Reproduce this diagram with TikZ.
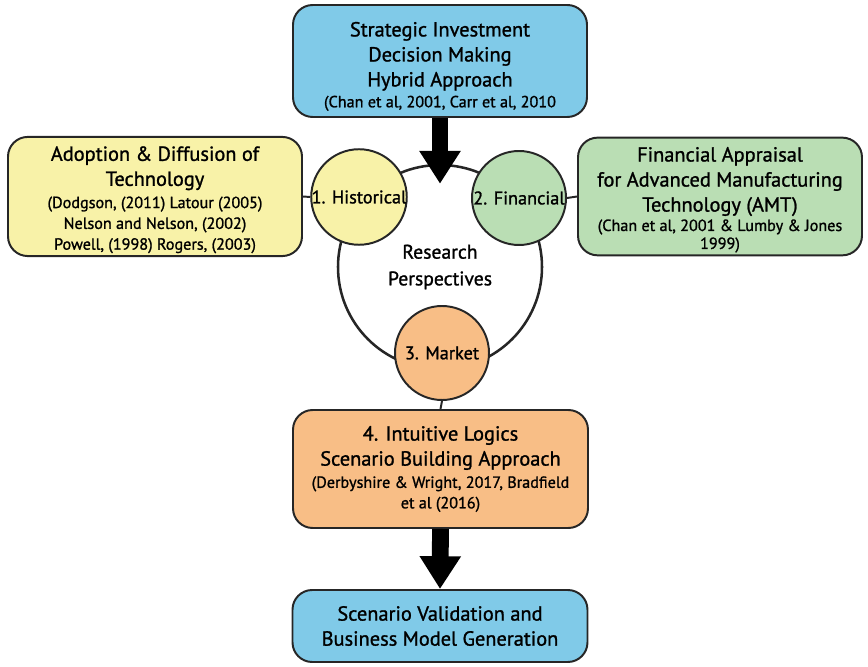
\documentclass[tikz,border=0pt]{standalone}
\usepackage{fontspec}
\setmainfont{PT Sans}[FakeBold=1.2]
\usetikzlibrary{arrows.meta}

\definecolor{boxblue}{RGB}{128,202,232}
\definecolor{boxyellow}{RGB}{248,242,168}
\definecolor{boxgreen}{RGB}{186,222,180}
\definecolor{boxorange}{RGB}{248,190,134}

% smaller type for the reference lines
\newcommand{\citeline}[1]{{\fontsize{11.5}{14}\selectfont #1}}
% pushes a text block a little lower in its box
\newcommand{\toppad}{\rule{0pt}{18pt}}

\begin{document}
\begin{tikzpicture}[
    box/.style={draw=black!85, line width=1.4pt, rounded corners=14pt, align=center, inner sep=2pt,
                font=\fontsize{14.5}{17.8}\selectfont},
    bluebox/.style={box, fill=boxblue},
    yellowbox/.style={box, fill=boxyellow},
    greenbox/.style={box, fill=boxgreen},
    orangebox/.style={box, fill=boxorange},
    persp/.style={circle, draw=black!85, line width=1.4pt, inner sep=0pt, minimum size=2.35cm, align=center,
                  font=\fontsize{13}{16}\selectfont},
    link/.style={draw=black!85, line width=1.4pt},
    bigarrow/.style={line width=0.42cm, black, -{Triangle[width=0.98cm, length=0.82cm]}},
]
\useasboundingbox (0,0) rectangle (21.7,16.65);

% Research perspectives ring
\node[circle, draw=black!85, line width=1.8pt, minimum size=5.1cm, align=center,
      font=\fontsize{14}{19}\selectfont] (ring) at (11.0, 9.975) {Research\\Perspectives};

\node[persp, fill=boxyellow] (hist) at (8.975, 11.725) {1. Historical};
\node[persp, fill=boxgreen] (fin) at (12.975, 11.7) {2. Financial};
\node[persp, fill=boxorange] (mkt) at (11.05, 7.825) {3. Market};

% Top
\node[bluebox, minimum width=7.35cm, minimum height=2.8cm] (strat) at (11.0, 15.125)
    {\toppad Strategic Investment\\Decision Making\\Hybrid Approach\\[-3pt]\citeline{(Chan et al, 2001, Carr et al, 2010}};
\draw[bigarrow] (strat.south) -- ([yshift=-0.5cm]ring.north);

% Left
\node[yellowbox, minimum width=7.35cm, minimum height=2.925cm] (adopt) at (3.875, 11.7375)
    {\rule{0pt}{15pt}Adoption \& Diffusion of\\Technology\\[-2pt]\citeline{(Dodgson, (2011) Latour (2005)}\\[-3pt]
     \citeline{Nelson and Nelson, (2002)}\\[-3pt]\citeline{Powell, (1998) Rogers, (2003)}};
\draw[link] (adopt.east) -- (hist.west);

% Right
\node[greenbox, minimum width=7.1cm, minimum height=2.925cm] (amt) at (18.0, 11.7375)
    {\rule{0pt}{15pt}Financial Appraisal\\for Advanced Manufacturing\\Technology (AMT)\\[-4pt]\citeline{(Chan et al, 2001 \& Lumby \& Jones}\\[-5pt]
     \citeline{1999)}};
\draw[link] (fin.east) -- (amt.west);

% Scenario building
\node[orangebox, minimum width=7.375cm, minimum height=2.95cm] (logics) at (11.0125, 4.925)
    {4. Intuitive Logics\\Scenario Building Approach\\[-2pt]\citeline{(Derbyshire \& Wright, 2017, Bradfield}\\[-3.2pt]
     \citeline{et al (2016)}};
\draw[link] (mkt.south) -- (logics.north);

% Bottom
\node[bluebox, minimum width=7.375cm, minimum height=1.8cm] (valid) at (11.0, 1.0)
    {Scenario Validation and\\Business Model Generation};
\draw[bigarrow] (logics.south) -- (valid.north);

\end{tikzpicture}
\end{document}
